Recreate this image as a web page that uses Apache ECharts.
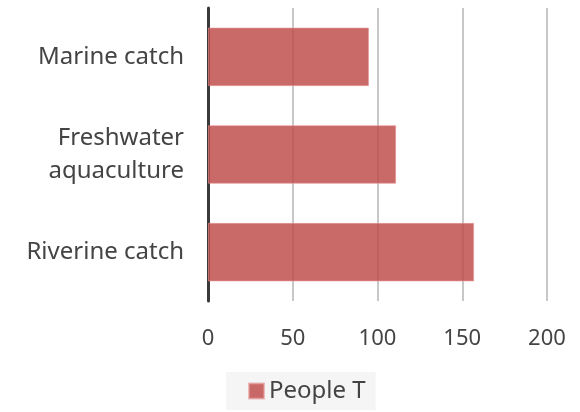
<!DOCTYPE html>
<html>
<head>
<meta charset="utf-8">
<script src="https://cdn.jsdelivr.net/npm/echarts@6/dist/echarts.min.js"></script>
<style>
html, body { margin: 0; padding: 0; background: #fff; }
#main { width: 580px; height: 412px; }
</style>
</head>
<body>
<div id="main"></div>
<script>
var categories = ['Riverine catch', 'Freshwater\naquaculture', 'Marine catch'];
var peopleT = [157, 111, 95];
var seriesName = 'People T';
var xTicks = [0, 200, 50];

var chart = echarts.init(document.getElementById('main'));
var font = '"Source Sans Pro", "Noto Sans", sans-serif';
var option = {
	textStyle: { fontFamily: font },
	grid: { left: 208, right: 33, top: 8, bottom: 111 },
	legend: {
		data: [seriesName],
		bottom: 2,
		left: 226,
		backgroundColor: '#f5f5f5',
		padding: [7, 10, 7, 22],
		itemWidth: 15,
		itemHeight: 15,
		itemGap: 8,
		icon: 'rect',
		textStyle: { fontSize: 24, color: '#444', fontFamily: font }
	},
	xAxis: {
		type: 'value',
		min: xTicks[0],
		max: xTicks[1],
		interval: xTicks[2],
		axisLine: { show: false },
		axisTick: { show: false },
		axisLabel: { fontSize: 22, color: '#444', margin: 27 },
		splitLine: {
			lineStyle: {
				width: 1.5,
				color: new echarts.graphic.LinearGradient(0, 0, 0, 1, [
					{ offset: 0, color: '#e6e6e6' },
					{ offset: 1, color: '#b5b5b5' }
				], true)
			}
		}
	},
	yAxis: {
		type: 'category',
		data: categories,
		axisLine: { show: true, lineStyle: { color: '#3a3a3a', width: 3 } },
		axisTick: { show: false },
		axisLabel: { fontSize: 24, color: '#444', margin: 24, lineHeight: 33 }
	},
	series: [{
		name: seriesName,
		type: 'bar',
		data: peopleT,
		barWidth: '60%',
		itemStyle: {
			color: 'rgba(192, 80, 77, 0.85)',
			borderColor: 'rgba(230, 150, 150, 0.6)',
			borderWidth: 1
		}
	}]
};
chart.setOption(option);
</script>
</body>
</html>
